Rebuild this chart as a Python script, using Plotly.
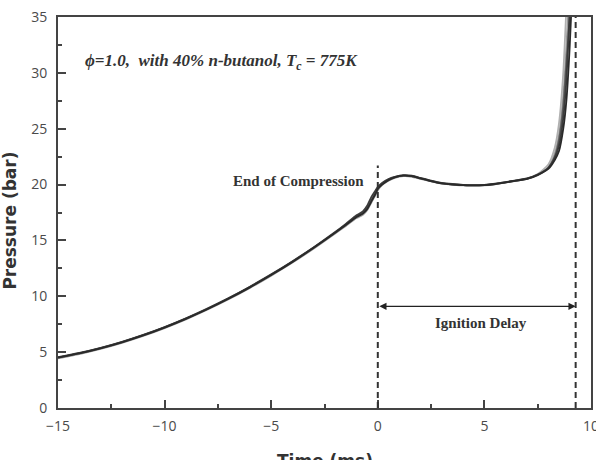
import plotly.graph_objects as go

# Time (ms)
time_ms = [-15, -14, -13, -12, -11, -10, -9, -8, -7, -6, -5, -4, -3, -2, -1.5, -1,
           -0.7, -0.5, -0.3, -0.1, 0, 0.2, 0.5, 0.8, 1.2, 1.6, 2, 2.5, 3, 3.5, 4, 4.5,
           5, 5.5, 6, 6.5, 7, 7.5, 8, 8.3, 8.5, 8.7, 8.85, 9.0, 9.1]

# Pressure traces (bar), repeated runs
run_1 = [4.5, 4.88, 5.34, 5.88, 6.5, 7.2, 7.98, 8.84, 9.78, 10.8, 11.9, 13.08, 14.34, 15.68, 16.38, 17.1,
         17.4, 17.8, 18.5, 19.2, 19.6, 20.0, 20.4, 20.65, 20.8, 20.75, 20.55, 20.3, 20.1, 20.0, 19.95, 19.92,
         19.95, 20.05, 20.2, 20.35, 20.5, 20.85, 21.4, 22.2, 23.0, 25.0, 27.6, 32.3, 36.5]
run_2 = [4.55, 4.93, 5.39, 5.93, 6.55, 7.25, 8.03, 8.9, 9.84, 10.86, 11.96, 13.14, 14.4, 15.75, 16.48, 17.25,
         17.6, 18.1, 18.9, 19.5, 19.8, 20.15, 20.5, 20.7, 20.85, 20.8, 20.6, 20.35, 20.15, 20.05, 19.98, 19.95,
         19.98, 20.08, 20.22, 20.38, 20.55, 20.9, 21.5, 22.4, 23.5, 26.0, 29.5, 35.5, 40.0]
run_3 = [4.45, 4.83, 5.29, 5.83, 6.45, 7.15, 7.93, 8.79, 9.73, 10.75, 11.85, 13.02, 14.28, 15.62, 16.3, 17.0,
         17.3, 17.7, 18.4, 19.1, 19.5, 19.95, 20.35, 20.6, 20.75, 20.7, 20.5, 20.28, 20.08, 19.98, 19.93, 19.9,
         19.93, 20.03, 20.18, 20.33, 20.5, 20.9, 21.6, 22.8, 24.5, 28.0, 32.5, 38.0, 42.0]
run_4 = [4.5, 4.9, 5.36, 5.9, 6.52, 7.22, 8.0, 8.86, 9.8, 10.82, 11.92, 13.1, 14.36, 15.7, 16.42, 17.18,
         17.5, 17.95, 18.7, 19.35, 19.7, 20.05, 20.45, 20.68, 20.82, 20.77, 20.57, 20.32, 20.12, 20.02, 19.96, 19.93,
         19.96, 20.06, 20.21, 20.37, 20.55, 20.95, 21.8, 23.3, 25.5, 30.0, 36.0, 42.0, 46.0]
run_5 = [4.52, 4.9, 5.36, 5.9, 6.52, 7.22, 8.0, 8.86, 9.8, 10.82, 11.92, 13.1, 14.36, 15.7, 16.4, 17.12,
         17.45, 17.85, 18.6, 19.25, 19.65, 20.02, 20.42, 20.66, 20.8, 20.76, 20.56, 20.31, 20.11, 20.01, 19.95, 19.92,
         19.95, 20.05, 20.2, 20.36, 20.52, 20.88, 21.5, 22.5, 24.0, 27.0, 31.0, 35.0, 39.0]

runs = [run_3, run_4, run_5, run_2, run_1]
run_colors = ["#9a9a9a", "#b0b0b0", "#5a5a5a", "#3c3c3c", "#2a2a2a"]

# Key times (ms)
end_of_compression = 0.0
ignition_time = 9.28

x_ticks = [-15, -10, -5, 0, 5, 10]
y_ticks = [0, 5, 10, 15, 20, 25, 30, 35]

fig = go.Figure()
for r, c in zip(runs, run_colors):
    fig.add_trace(go.Scatter(x=time_ms, y=r, mode="lines",
                             line=dict(color=c, width=1.8, shape="spline", smoothing=0.6),
                             showlegend=False, hoverinfo="skip"))

axis_common = dict(showline=True, linewidth=2, linecolor="#444444", mirror=True,
                   ticks="inside", ticklen=8, tickwidth=1.5, tickcolor="#444444",
                   showgrid=False, zeroline=False, ticklabeloverflow="allow",
                   tickfont=dict(family="Open Sans", size=14, color="#4a4a4a"),
                   automargin=False)

fig.update_xaxes(range=[-15, 10], tickvals=x_ticks, ticklabelstandoff=4,
                 minor=dict(ticks="inside", ticklen=4, tickwidth=1.5, tickcolor="#444444", dtick=2.5),
                 **axis_common)
fig.update_yaxes(range=[0, 35], tickvals=y_ticks, ticklabelstandoff=6,
                 minor=dict(ticks="inside", ticklen=4, tickwidth=1.5, tickcolor="#444444", dtick=2.5),
                 **axis_common)

dash_line = dict(color="#333333", width=2, dash="6px,4px")
fig.add_shape(type="line", x0=end_of_compression, x1=end_of_compression, y0=0, y1=21.7,
              xref="x", yref="y", line=dash_line)
fig.add_shape(type="line", x0=ignition_time, x1=ignition_time, y0=0, y1=35,
              xref="x", yref="y", line=dash_line)

# Double-headed arrow for ignition delay
fig.add_annotation(x=ignition_time, y=9.1, ax=end_of_compression, ay=9.1,
                   xref="x", yref="y", axref="x", ayref="y", text="",
                   showarrow=True, arrowhead=2, arrowsize=1.2, arrowwidth=1.2,
                   arrowcolor="#222222", arrowside="end+start", standoff=0, startstandoff=0)

serif_bold = dict(family="Liberation Serif", size=15, color="#333333")
fig.add_annotation(x=4.83, y=7.6, xref="x", yref="y", text="<b>Ignition Delay</b>",
                   showarrow=False, font=serif_bold)
fig.add_annotation(x=-0.55, y=20.35, xref="x", yref="y", text="<b>End of Compression</b>",
                   showarrow=False, xanchor="right", font=serif_bold)
fig.add_annotation(x=-13.83, y=31.0, xref="x", yref="y",
                   text="<b><i>ϕ=1.0,  with 40% n-butanol, T<sub>c</sub> = 775K</i></b>",
                   showarrow=False, xanchor="left",
                   font=dict(family="Liberation Serif", size=17, color="#333333"))

title_font = dict(family="DejaVu Sans", size=17, color="#333333")
fig.add_annotation(x=0.5, y=-0.105, xref="paper", yref="paper", text="<b>Time (ms)</b>",
                   showarrow=False, yanchor="top", font=title_font)
fig.add_annotation(x=-0.112, y=0.48, xref="paper", yref="paper", text="<b>Pressure (bar)</b>",
                   showarrow=False, textangle=-90, font=title_font)

fig.update_layout(width=596, height=460, margin=dict(l=58, r=5, t=17, b=52),
                  plot_bgcolor="white", paper_bgcolor="white")

fig.write_html("out.html")
